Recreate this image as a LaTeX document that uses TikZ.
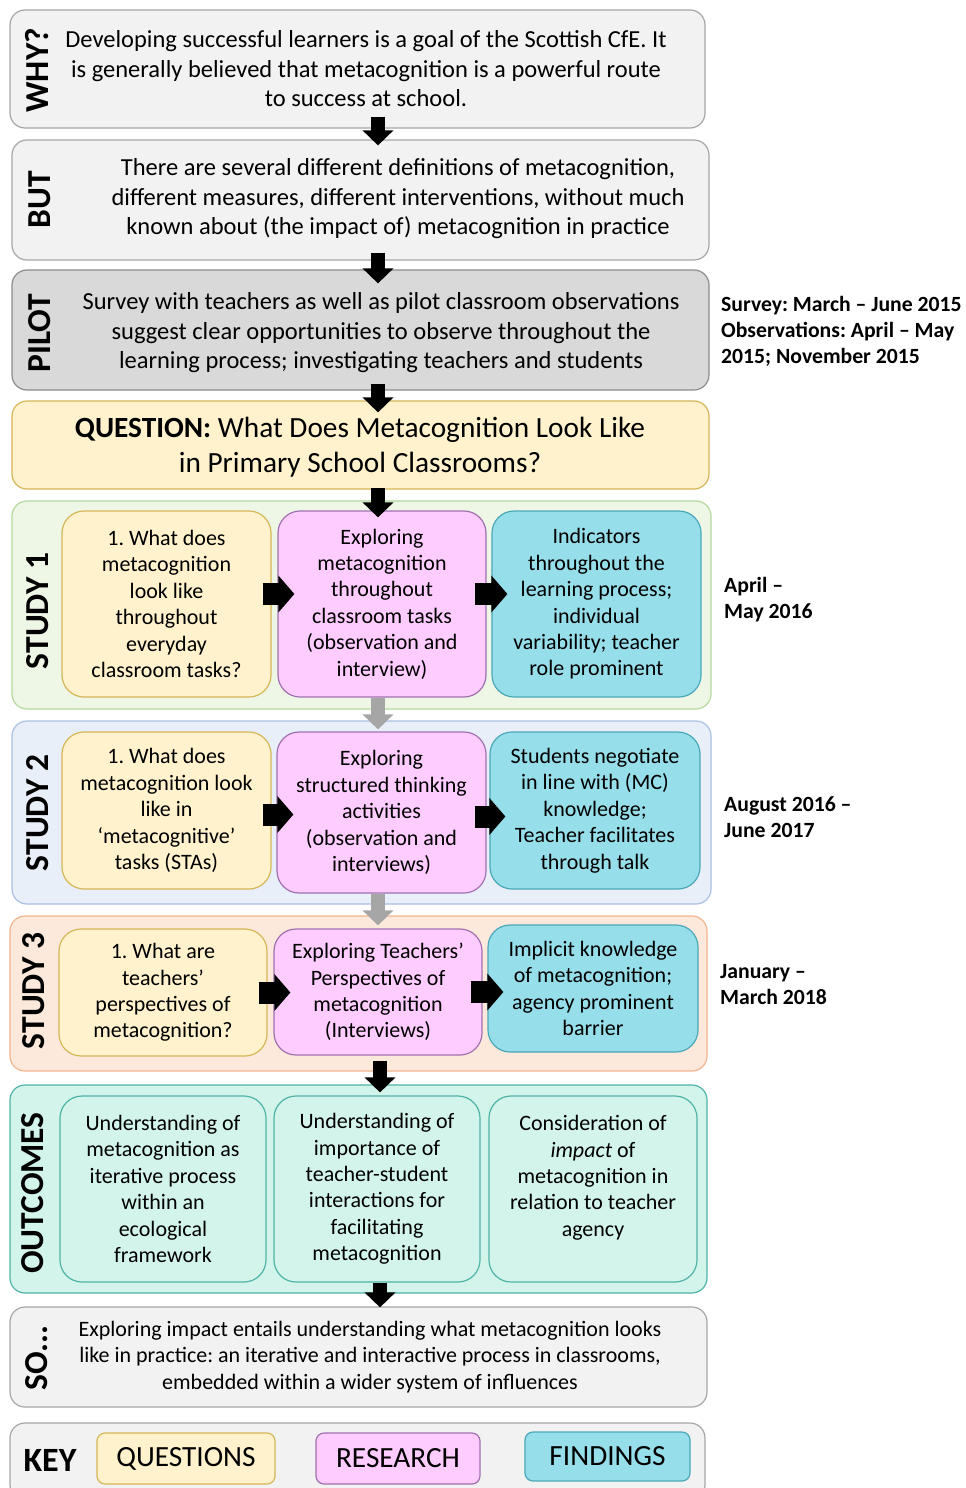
\documentclass[tikz,border=0pt]{standalone}
\usepackage{fontspec}
\setmainfont{Carlito}
\usetikzlibrary{arrows.meta}
\frenchspacing
\definecolor{grayF}{HTML}{F2F2F2}
\definecolor{grayB}{HTML}{A6A6A6}
\definecolor{pilotF}{HTML}{D9D9D9}
\definecolor{pilotB}{HTML}{8C8C8C}
\definecolor{qF}{HTML}{FFF2CC}
\definecolor{qB}{HTML}{D6B656}
\definecolor{rF}{HTML}{FFCCFF}
\definecolor{rB}{HTML}{A070B0}
\definecolor{fF}{HTML}{96DEE9}
\definecolor{fB}{HTML}{4AA8B8}
\definecolor{sAF}{HTML}{EEF6E6}
\definecolor{sAB}{HTML}{B5D99C}
\definecolor{sBF}{HTML}{E9EFF8}
\definecolor{sBB}{HTML}{A9BFE3}
\definecolor{sCF}{HTML}{FCE9DC}
\definecolor{sCB}{HTML}{F2B48C}
\definecolor{oF}{HTML}{D2F4EA}
\definecolor{oB}{HTML}{4FB3A6}
\definecolor{arrG}{HTML}{A6A6A6}
\newcommand\mybody{\fontsize{24.5}{29.5}\selectfont}
\newcommand\myinner{\fontsize{22}{26.4}\selectfont}
\newcommand\mylab{\bfseries\fontsize{33.5}{33.5}\selectfont}
\newcommand\mydate{\bfseries\fontsize{21.7}{26}\selectfont}
\newcommand\myques{\fontsize{29.3}{35}\selectfont}
\newcommand\mykey{\fontsize{29.3}{30}\selectfont}
\begin{document}
\begin{tikzpicture}[x=1pt,y=-1pt,
  bx/.style={draw, line width=1.2pt, rounded corners=15pt, inner sep=0pt, align=center},
  ibx/.style={bx, rounded corners=22pt, font=\myinner},
  graybx/.style={bx, fill=grayF, draw=grayB},
  pilotbx/.style={bx, fill=pilotF, draw=pilotB},
  qbx/.style={fill=qF, draw=qB},
  rbx/.style={fill=rF, draw=rB},
  fbx/.style={fill=fF, draw=fB},
  obx/.style={fill=oF, draw=oB},
  lab/.style={rotate=90, font=\mylab, inner sep=0pt},
  txt/.style={align=center, font=\mybody, inner sep=0pt},
  date/.style={align=left, anchor=west, font=\mydate, inner sep=0pt},
  varrow/.style={line width=14pt, -{Triangle[width=30pt,length=15pt]}},
  harrow/.style={line width=22pt, -{Triangle[width=36pt,length=16pt]}},
  garrow/.style={varrow, draw=arrG}
]
\useasboundingbox (0,0) rectangle (966,1488);
\fill[white] (0,0) rectangle (966,1488);

% arrow columns
\coordinate (ax) at (378,0);
\coordinate (bx2) at (380,0);

% WHY
\node[graybx, minimum width=695pt, minimum height=118pt] (why) at (357.5,69) {};
\node[lab] (whyl) at (37,70) {WHY?};
\node[txt] (whyt) at (366,69) {Developing successful learners is a goal of the Scottish CfE. It\\is generally believed that metacognition is a powerful route\\to success at school.};

% BUT
\node[graybx, minimum width=697pt, minimum height=120pt] (but) at (360.5,200) {};
\node[lab] (butl) at (40,200) {BUT};
\node[txt] (butt) at (398,199) {There are several different definitions of metacognition,\\different measures, different interventions, without much\\known about (the impact of) metacognition in practice};

% PILOT
\node[pilotbx, minimum width=697pt, minimum height=120pt] (pilot) at (360.5,330) {};
\node[lab] (pilotl) at (40,333) {PILOT};
\node[txt] (pilott) at (381,333) {Survey with teachers as well as pilot classroom observations\\suggest clear opportunities to observe throughout the\\learning process; investigating teachers and students};
\node[date] (pilotd) at (721,331) {Survey: March -- June 2015\\Observations: April -- May\\2015; November 2015};

% QUESTION
\node[bx, qbx, minimum width=697pt, minimum height=88pt] (ques) at (360.5,445) {};
\node[txt, font=\myques] (quest) at (360,447) {\textbf{QUESTION:} What Does Metacognition Look Like\\in Primary School Classrooms?};

% STUDY 1
\node[bx, fill=sAF, draw=sAB, minimum width=699pt, minimum height=208pt] (s1) at (361.5,605) {};
\node[lab] (s1l) at (38,611) {STUDY 1};
\node[ibx, qbx, minimum width=209pt, minimum height=186pt] (q1) at (166.5,604) {1. What does\\metacognition\\look like\\throughout\\everyday\\classroom tasks?};
\node[ibx, rbx, minimum width=208pt, minimum height=186pt] (r1) at (382,604) {Exploring\\metacognition\\throughout\\classroom tasks\\(observation and\\interview)};
\node[ibx, fbx, minimum width=209pt, minimum height=186pt] (f1) at (596.5,604) {Indicators\\throughout the\\learning process;\\individual\\variability; teacher\\role prominent};
\node[date] (s1d) at (724,600) {April --\\May 2016};

% STUDY 2
\node[bx, fill=sBF, draw=sBB, minimum width=699pt, minimum height=183pt] (s2) at (361.5,812.5) {};
\node[lab] (s2l) at (38,813) {STUDY 2};
\node[ibx, qbx, minimum width=209pt, minimum height=157pt] (q2) at (166.5,810.5) {1. What does\\metacognition look\\like in\\‘metacognitive’\\tasks (STAs)};
\node[ibx, rbx, minimum width=209pt, minimum height=161pt] (r2) at (381.5,812.5) {Exploring\\structured thinking\\activities\\(observation and\\interviews)};
\node[ibx, fbx, minimum width=210pt, minimum height=157pt] (f2) at (595,810.5) {Students negotiate\\in line with (MC)\\knowledge;\\Teacher facilitates\\through talk};
\node[date] (s2d) at (724,817) {August 2016 --\\June 2017};

% STUDY 3
\node[bx, fill=sCF, draw=sCB, minimum width=697pt, minimum height=155pt] (s3) at (358.5,993.5) {};
\node[lab] (s3l) at (34,991) {STUDY 3};
\node[ibx, qbx, minimum width=208pt, minimum height=127pt] (q3) at (163,992.5) {1. What are\\teachers’\\perspectives of\\metacognition?};
\node[ibx, rbx, minimum width=208pt, minimum height=126pt] (r3) at (378,992) {Exploring Teachers’\\Perspectives of\\metacognition\\(Interviews)};
\node[ibx, fbx, minimum width=210pt, minimum height=127pt] (f3) at (593,988.5) {Implicit knowledge\\of metacognition;\\agency prominent\\barrier};
\node[date] (s3d) at (720,985) {January --\\March 2018};

% OUTCOMES
\node[bx, obx, minimum width=697pt, minimum height=208pt] (out) at (358.5,1189) {};
\node[lab] (outl) at (33,1193) {OUTCOMES};
\node[ibx, obx, minimum width=206pt, minimum height=186pt] (o1) at (163,1189) {Understanding of\\metacognition as\\iterative process\\within an\\ecological\\framework};
\node[ibx, obx, minimum width=206pt, minimum height=186pt] (o2) at (377,1189) {Understanding of\\importance of\\teacher-student\\interactions for\\facilitating\\metacognition};
\node[ibx, obx, minimum width=208pt, minimum height=186pt] (o3) at (593,1189) {Consideration of\\\textit{impact} of\\metacognition in\\relation to teacher\\agency\\\mbox{}};

% SO
\node[graybx, minimum width=697pt, minimum height=100pt] (so) at (358.5,1357) {};
\node[lab] (sol) at (37,1358) {SO...};
\node[txt, font=\fontsize{22}{26.5}\selectfont] (sot) at (370,1357) {Exploring impact entails understanding what metacognition looks\\like in practice: an iterative and interactive process in classrooms,\\embedded within a wider system of influences};

% KEY
\node[graybx, minimum width=695pt, minimum height=77pt] (key) at (357.5,1461.5) {};
\node[font=\bfseries\fontsize{34}{34}\selectfont, inner sep=0pt] (keyl) at (50,1460) {KEY};
\node[bx, qbx, rounded corners=8pt, minimum width=178pt, minimum height=51pt, font=\mykey] (kq) at (186,1458.5) {QUESTIONS};
\node[bx, rbx, rounded corners=8pt, minimum width=164pt, minimum height=51pt, font=\mykey] (kr) at (398,1458.5) {RESEARCH};
\node[bx, fbx, rounded corners=8pt, minimum width=165pt, minimum height=49pt, font=\mykey] (kf) at (607.5,1456.5) {FINDINGS};

% vertical arrows
\draw[varrow, shorten <=-12pt, shorten >=-6pt] (why.south -| ax) -- (but.north -| ax);
\draw[varrow, shorten <=-8pt, shorten >=-14pt] (but.south -| ax) -- (pilot.north -| ax);
\draw[varrow, shorten <=-7pt, shorten >=-12pt] (pilot.south -| ax) -- (ques.north -| ax);
\draw[varrow, shorten <=-2pt, shorten >=-7pt] (ques.south -| ax) -- (r1.north -| ax);
\draw[garrow, shorten >=2pt] (r1.south -| ax) -- (r2.north -| ax);
\draw[garrow, shorten >=3pt] (r2.south -| ax) -- (r3.north -| ax);
\draw[varrow, shorten <=5pt, shorten >=3pt] (r3.south -| bx2) -- (o2.north -| bx2);
\draw[varrow, shorten <=0pt, shorten >=-1pt] (o2.south -| bx2) -- (so.north -| bx2);

% horizontal arrows
\draw[harrow, shorten <=-9pt, shorten >=-17pt] ([yshift=10pt]q1.east) -- ([yshift=10pt]q1.east -| r1.west);
\draw[harrow, shorten <=-12pt, shorten >=-16pt] ([yshift=10pt]r1.east) -- ([yshift=10pt]r1.east -| f1.west);
\draw[harrow, shorten <=-9pt, shorten >=-17pt] ([yshift=-4pt]q2.east) -- ([yshift=-4pt]q2.east -| r2.west);
\draw[harrow, shorten <=-12pt, shorten >=-16pt] ([yshift=-4pt]r2.east) -- ([yshift=-4pt]r2.east -| f2.west);
\draw[harrow, shorten <=-9pt, shorten >=-17pt] (q3.east) -- (q3.east -| r3.west);
\draw[harrow, shorten <=-12pt, shorten >=-16pt] (r3.east) -- (r3.east -| f3.west);
\end{tikzpicture}
\end{document}
